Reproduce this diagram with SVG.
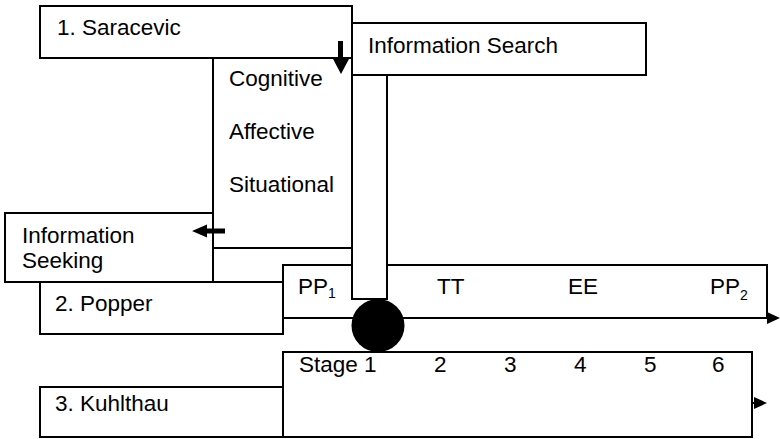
<svg xmlns="http://www.w3.org/2000/svg" width="780" height="439" viewBox="0 0 780 439">
<style>
.box{fill:#fff;stroke:#000;stroke-width:2}
.ln{fill:none;stroke:#000;stroke-width:2}
text{font-family:"Liberation Sans",Arial,sans-serif;font-size:22.5px;fill:#000}
.sub{font-size:14px}
</style>
<rect width="780" height="439" fill="#fff"/>
<g id="info-search"><rect class="box" x="352" y="23" width="294" height="52"/><text x="368" y="53">Information Search</text></g>
<g id="saracevic"><rect class="box" x="40" y="6" width="312" height="52"/><text x="57" y="35">1. Saracevic</text></g>
<g id="dimensions"><rect class="box" x="213" y="58" width="139" height="190"/>
<text x="229" y="86">Cognitive</text><text x="229" y="139">Affective</text><text x="229" y="192">Situational</text></g>
<g id="info-seeking"><rect class="box" x="5" y="213" width="208" height="69"/><text x="22" y="243">Information</text><text x="22" y="268">Seeking</text></g>
<g id="popper"><rect class="box" x="40" y="282" width="243" height="52"/><text x="55" y="311">2. Popper</text></g>
<g id="popper-stages"><rect class="box" x="283" y="265" width="484" height="53"/>
<text x="298" y="294">PP<tspan class="sub" dy="4">1</tspan></text>
<text x="437" y="294">TT</text><text x="568" y="294">EE</text>
<text x="710" y="294">PP<tspan class="sub" dy="6">2</tspan></text></g>
<g id="kuhlthau"><rect class="box" x="40" y="387" width="243" height="50"/><text x="55" y="411">3. Kuhlthau</text></g>
<g id="kuhlthau-stages"><rect class="box" x="283" y="352" width="469" height="85"/>
<text x="299" y="372">Stage 1</text><text x="434" y="372">2</text><text x="504" y="372">3</text><text x="574" y="372">4</text><text x="644" y="372">5</text><text x="712" y="372">6</text></g>
<g id="connectors">
<line class="ln" x1="283" y1="318" x2="770" y2="318"/>
<polygon points="767,312 780,318 767,324" fill="#000"/>
<rect class="box" x="352" y="75" width="35" height="224"/>
<circle cx="378" cy="325.5" r="26.5" fill="#000"/>
<line x1="752" y1="403" x2="756" y2="403" stroke="#000" stroke-width="2"/>
<polygon points="754,397 767,403 754,409" fill="#000"/>
<rect x="338" y="41" width="5" height="19" fill="#000"/>
<polygon points="333,59 349,59 341,74" fill="#000"/>
<rect x="204" y="228.5" width="21" height="5" fill="#000"/>
<polygon points="207,224.5 207,237.5 192,231" fill="#000"/>
</g>
</svg>
